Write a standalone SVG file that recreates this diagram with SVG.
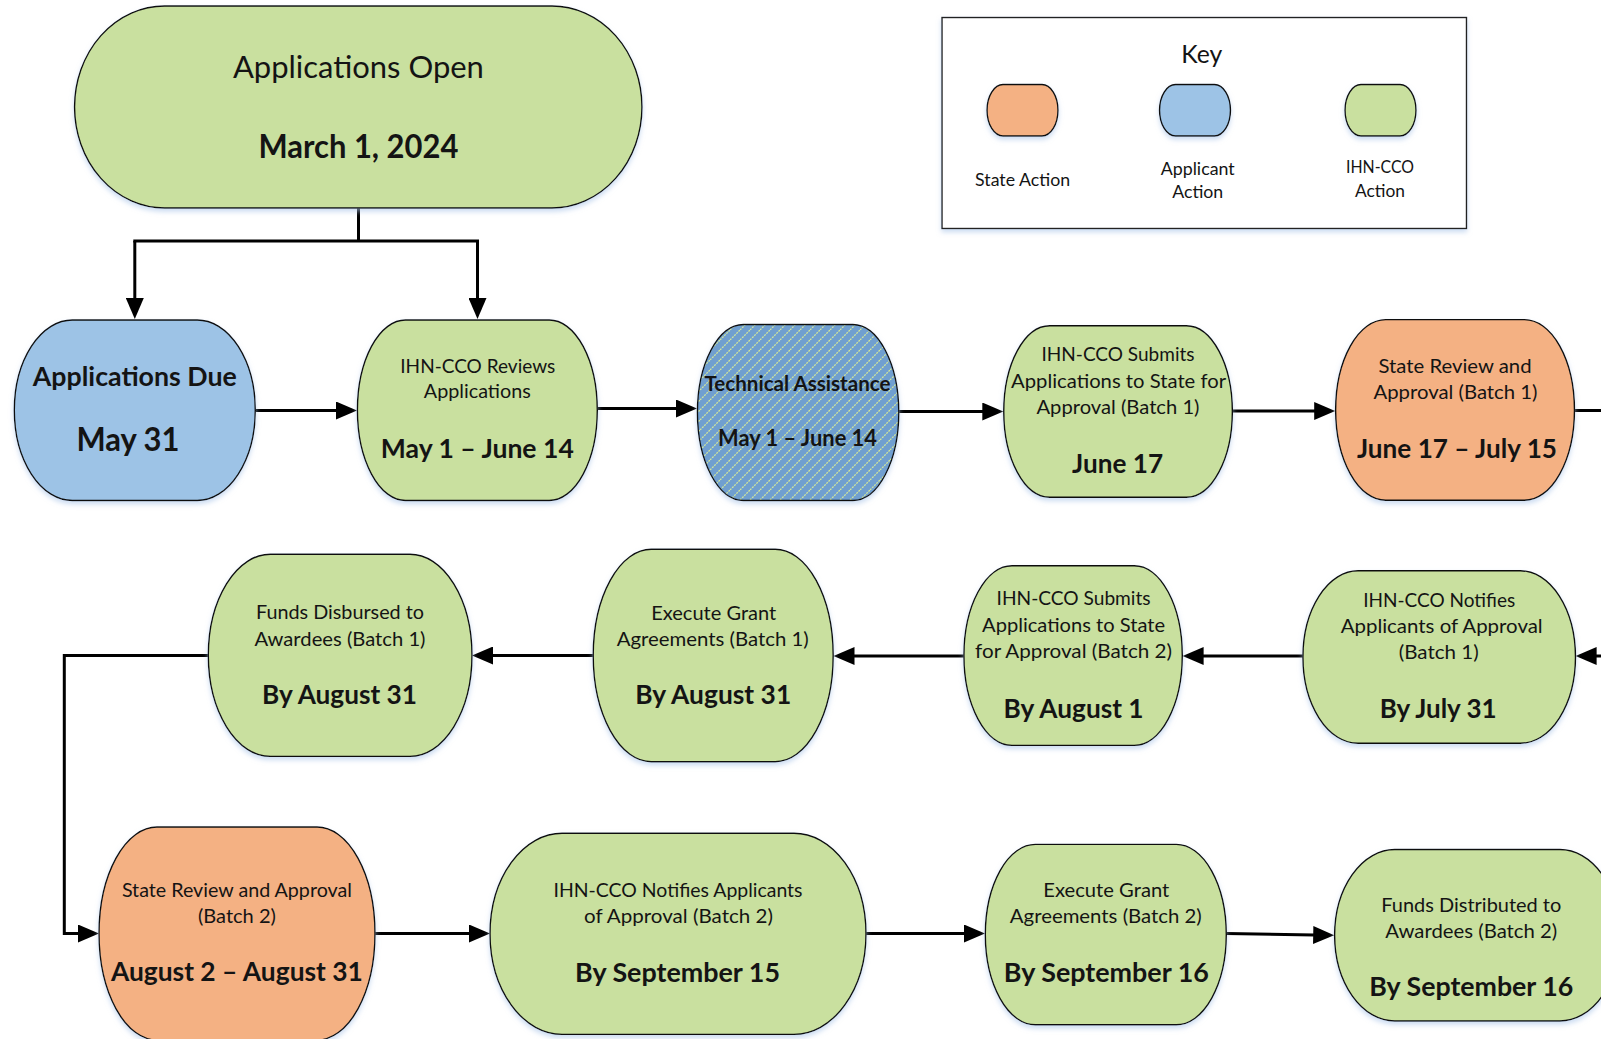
<svg xmlns="http://www.w3.org/2000/svg" width="1601" height="1039" viewBox="0 0 1601 1039">
<style>
.g{fill:#c9e09f;stroke:#111;stroke-width:1.4}
.o{fill:#f4b183;stroke:#111;stroke-width:1.4}
.bl{fill:#9dc3e6;stroke:#111;stroke-width:1.4}
.ta{fill:url(#hatch);stroke:#111;stroke-width:1.4}
.sh{filter:url(#sh)}
text{font-family:Lato,"Liberation Sans",sans-serif;fill:#141414;text-anchor:middle}
.t{font-size:20px}
.b{font-size:27px;font-weight:bold}
.k{font-size:17px}
.c{fill:none;stroke:#000;stroke-width:3}
.ca{fill:none;stroke:#000;stroke-width:3;marker-end:url(#ah)}
</style>
<defs>
<filter id="sh" x="-10%" y="-10%" width="120%" height="130%">
<feDropShadow dx="0" dy="3" stdDeviation="2.5" flood-color="#a9c4e8" flood-opacity="0.6"/>
</filter>
<pattern id="hatch" patternUnits="userSpaceOnUse" width="10" height="10">
<rect width="10" height="10" fill="#6f9fd0"/>
<path d="M0,10 L10,0 M-2,2 L2,-2 M8,12 L12,8" stroke="#d2e69c" stroke-width="1.3" stroke-dasharray="2 1"/>
</pattern>
<marker id="ah" markerUnits="userSpaceOnUse" markerWidth="22" markerHeight="18" refX="1" refY="9" orient="auto">
<path d="M0,0 L21,9 L0,18 Z" fill="#000"/>
</marker>
</defs>
<rect width="1601" height="1039" fill="#fff"/>

<g id="key">
<rect x="942" y="17.5" width="524.5" height="211" fill="#fff" stroke="#222" stroke-width="1.4" class="sh"/>
<text x="1201.8" y="63" style="font-size:25px" textLength="41" lengthAdjust="spacingAndGlyphs">Key</text>
<path class="o sh" d="M1003,84.5 H1042 A16,25.75 0 0 1 1042,136 H1003 A16,25.75 0 0 1 1003,84.5 Z"/>
<path class="bl sh" d="M1175.5,84.5 H1214.5 A16,25.75 0 0 1 1214.5,136 H1175.5 A16,25.75 0 0 1 1175.5,84.5 Z"/>
<path class="g sh" d="M1361,84.5 H1400 A16,25.75 0 0 1 1400,136 H1361 A16,25.75 0 0 1 1361,84.5 Z"/>
<text class="k" x="1022.6" y="186" textLength="95" lengthAdjust="spacingAndGlyphs">State Action</text>
<text class="k" x="1197.7" y="175" textLength="74" lengthAdjust="spacingAndGlyphs">Applicant</text>
<text class="k" x="1197.7" y="198.3" textLength="51" lengthAdjust="spacingAndGlyphs">Action</text>
<text class="k" x="1380" y="173.3" textLength="68" lengthAdjust="spacingAndGlyphs">IHN-CCO</text>
<text class="k" x="1380" y="196.7" textLength="50" lengthAdjust="spacingAndGlyphs">Action</text>
</g>

<g id="connectors">
<path class="c" d="M358.5,208 V241"/>
<path class="c" d="M133.3,241 H479"/>
<path class="ca" d="M134.8,241 V299"/>
<path class="ca" d="M477.5,241 V299"/>
<path class="ca" d="M255.3,410.5 H337"/>
<path class="ca" d="M597.3,408.5 H677"/>
<path class="ca" d="M899,411.5 H983.3"/>
<path class="ca" d="M1232.4,411 H1315.2"/>
<path class="c" d="M1574.5,410.5 H1610"/>
<path class="ca" d="M1610,656 H1595.6"/>
<path class="ca" d="M1302.9,656 H1202.6"/>
<path class="ca" d="M963.9,656 H853.5"/>
<path class="ca" d="M593.2,655.5 H492"/>
<path class="ca" d="M208.3,655.5 H64.3 V933.5 H79"/>
<path class="ca" d="M375,933.5 H470"/>
<path class="ca" d="M866,933.5 H965"/>
<path class="ca" d="M1226.3,933.5 L1314.2,935"/>
</g>

<g id="n1">
<path class="g sh" d="M164.5,6 H552 A90,101 0 0 1 552,208 H164.5 A90,101 0 0 1 164.5,6 Z"/>
<text x="358.4" y="77.5" style="font-size:31px" textLength="251" lengthAdjust="spacingAndGlyphs">Applications Open</text>
<text x="358.4" y="158" style="font-size:32px;font-weight:bold" textLength="200" lengthAdjust="spacingAndGlyphs">March 1, 2024</text>
</g>

<g id="n2">
<path class="bl sh" d="M72.3,320 H197.3 A58,90.25 0 0 1 197.3,500.5 H72.3 A58,90.25 0 0 1 72.3,320 Z"/>
<text class="b" x="134.8" y="385.5" textLength="204" lengthAdjust="spacingAndGlyphs">Applications Due</text>
<text x="128" y="451" style="font-size:32px;font-weight:bold" textLength="103" lengthAdjust="spacingAndGlyphs">May 31</text>
</g>

<g id="n3">
<path class="g sh" d="M405.4,320 H549.3 A48,90.25 0 0 1 549.3,500.5 H405.4 A48,90.25 0 0 1 405.4,320 Z"/>
<text class="t" x="477.8" y="372.6" textLength="155" lengthAdjust="spacingAndGlyphs">IHN-CCO Reviews</text>
<text class="t" x="477.3" y="398.4" textLength="107" lengthAdjust="spacingAndGlyphs">Applications</text>
<text class="b" x="477.3" y="457.5" textLength="193" lengthAdjust="spacingAndGlyphs">May 1 – June 14</text>
</g>

<g id="n4">
<path class="ta sh" d="M743.4,324.5 H852.8 A46,88 0 0 1 852.8,500.5 H743.4 A46,88 0 0 1 743.4,324.5 Z"/>
<text x="797.5" y="391" style="font-size:21px;font-weight:bold" textLength="186" lengthAdjust="spacingAndGlyphs">Technical Assistance</text>
<text x="797.5" y="446" style="font-size:22px;font-weight:bold" textLength="159" lengthAdjust="spacingAndGlyphs">May 1 – June 14</text>
</g>

<g id="n5">
<path class="g sh" d="M1049.7,325.7 H1186.4 A46,85.8 0 0 1 1186.4,497.3 H1049.7 A46,85.8 0 0 1 1049.7,325.7 Z"/>
<text class="t" x="1118" y="361.2" textLength="153" lengthAdjust="spacingAndGlyphs">IHN-CCO Submits</text>
<text class="t" x="1118.6" y="387.6" textLength="215" lengthAdjust="spacingAndGlyphs">Applications to State for</text>
<text class="t" x="1118" y="413.6" textLength="163" lengthAdjust="spacingAndGlyphs">Approval (Batch 1)</text>
<text class="b" x="1117.6" y="473" textLength="91" lengthAdjust="spacingAndGlyphs">June 17</text>
</g>

<g id="n6">
<path class="o sh" d="M1385.6,319.6 H1524.5 A50,90.35 0 0 1 1524.5,500.3 H1385.6 A50,90.35 0 0 1 1385.6,319.6 Z"/>
<text class="t" x="1455" y="372.6" textLength="153" lengthAdjust="spacingAndGlyphs">State Review and</text>
<text class="t" x="1455.5" y="399" textLength="164" lengthAdjust="spacingAndGlyphs">Approval (Batch 1)</text>
<text class="b" x="1457" y="457.5" textLength="200" lengthAdjust="spacingAndGlyphs">June 17 – July 15</text>
</g>

<g id="n7">
<path class="g sh" d="M1357.9,570.8 H1520.5 A55,86.25 0 0 1 1520.5,743.3 H1357.9 A55,86.25 0 0 1 1357.9,570.8 Z"/>
<text class="t" x="1439.2" y="607" textLength="152" lengthAdjust="spacingAndGlyphs">IHN-CCO Notifies</text>
<text class="t" x="1441.7" y="633" textLength="202" lengthAdjust="spacingAndGlyphs">Applicants of Approval</text>
<text class="t" x="1438.7" y="659.3" textLength="80" lengthAdjust="spacingAndGlyphs">(Batch 1)</text>
<text class="b" x="1438.2" y="717.5" textLength="117" lengthAdjust="spacingAndGlyphs">By July 31</text>
</g>

<g id="n8">
<path class="g sh" d="M1011.9,565.7 H1134.3 A48,89.85 0 0 1 1134.3,745.4 H1011.9 A48,89.85 0 0 1 1011.9,565.7 Z"/>
<text class="t" x="1073.6" y="605.2" textLength="154" lengthAdjust="spacingAndGlyphs">IHN-CCO Submits</text>
<text class="t" x="1073.6" y="632.2" textLength="183" lengthAdjust="spacingAndGlyphs">Applications to State</text>
<text class="t" x="1073.6" y="658.4" textLength="197" lengthAdjust="spacingAndGlyphs">for Approval (Batch 2)</text>
<text class="b" x="1073.6" y="717.5" textLength="140" lengthAdjust="spacingAndGlyphs">By August 1</text>
</g>

<g id="n9">
<path class="g sh" d="M651.2,549.3 H775.2 A58,106.2 0 0 1 775.2,761.7 H651.2 A58,106.2 0 0 1 651.2,549.3 Z"/>
<text class="t" x="713.7" y="619.5" textLength="125" lengthAdjust="spacingAndGlyphs">Execute Grant</text>
<text class="t" x="712.7" y="645.5" textLength="192" lengthAdjust="spacingAndGlyphs">Agreements (Batch 1)</text>
<text class="b" x="713.2" y="704" textLength="156" lengthAdjust="spacingAndGlyphs">By August 31</text>
</g>

<g id="n10">
<path class="g sh" d="M270.3,554.2 H410 A62,101.1 0 0 1 410,756.4 H270.3 A62,101.1 0 0 1 270.3,554.2 Z"/>
<text class="t" x="340" y="619.3" textLength="168" lengthAdjust="spacingAndGlyphs">Funds Disbursed to</text>
<text class="t" x="340" y="646" textLength="171" lengthAdjust="spacingAndGlyphs">Awardees (Batch 1)</text>
<text class="b" x="339.5" y="704" textLength="155" lengthAdjust="spacingAndGlyphs">By August 31</text>
</g>

<g id="n11">
<path class="o sh" d="M157,827 H317 A58,106.5 0 0 1 317,1040 H157 A58,106.5 0 0 1 157,827 Z"/>
<text class="t" x="236.9" y="897" textLength="230" lengthAdjust="spacingAndGlyphs">State Review and Approval</text>
<text class="t" x="236.9" y="923" textLength="78" lengthAdjust="spacingAndGlyphs">(Batch 2)</text>
<text class="b" x="236.9" y="980.5" textLength="252" lengthAdjust="spacingAndGlyphs">August 2 – August 31</text>
</g>

<g id="n12">
<path class="g sh" d="M562,833.2 H794 A72,100.6 0 0 1 794,1034.4 H562 A72,100.6 0 0 1 562,833.2 Z"/>
<text class="t" x="678" y="897.4" textLength="249" lengthAdjust="spacingAndGlyphs">IHN-CCO Notifies Applicants</text>
<text class="t" x="678.5" y="923" textLength="189" lengthAdjust="spacingAndGlyphs">of Approval (Batch 2)</text>
<text class="b" x="677.5" y="982" textLength="205" lengthAdjust="spacingAndGlyphs">By September 15</text>
</g>

<g id="n13">
<path class="g sh" d="M1035.3,844.4 H1176.3 A50,90.2 0 0 1 1176.3,1024.8 H1035.3 A50,90.2 0 0 1 1035.3,844.4 Z"/>
<text class="t" x="1106.3" y="897.4" textLength="126" lengthAdjust="spacingAndGlyphs">Execute Grant</text>
<text class="t" x="1105.8" y="923" textLength="192" lengthAdjust="spacingAndGlyphs">Agreements (Batch 2)</text>
<text class="b" x="1106.3" y="982" textLength="205" lengthAdjust="spacingAndGlyphs">By September 16</text>
</g>

<g id="n14">
<path class="g sh" d="M1394.6,849.5 H1560 A60,85.75 0 0 1 1560,1021 H1394.6 A60,85.75 0 0 1 1394.6,849.5 Z"/>
<text class="t" x="1471.3" y="911.7" textLength="180" lengthAdjust="spacingAndGlyphs">Funds Distributed to</text>
<text class="t" x="1471.3" y="937.5" textLength="172" lengthAdjust="spacingAndGlyphs">Awardees (Batch 2)</text>
<text class="b" x="1471.3" y="996" textLength="204" lengthAdjust="spacingAndGlyphs">By September 16</text>
</g>
</svg>
